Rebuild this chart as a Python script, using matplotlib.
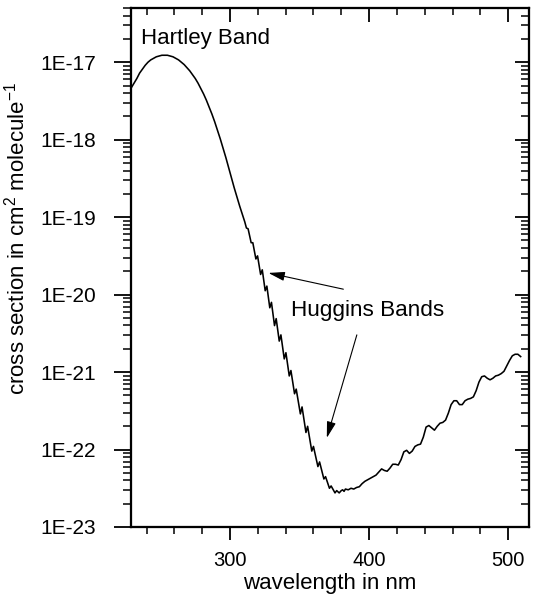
import numpy as np
import matplotlib
matplotlib.use('Agg')
import matplotlib.pyplot as plt
from matplotlib.ticker import LogLocator, MultipleLocator, FixedLocator, NullFormatter, FixedFormatter

# ---- data (wavelength in nm, log10 of cross section in cm^2 molecule^-1) ----
hartley_nm = [228, 229, 231, 233, 235, 237, 239, 241, 243, 245, 247, 249, 251, 253, 255,
              257, 259, 261, 263, 265, 267, 269, 271, 273, 275, 277, 279, 281, 283, 285,
              287, 289, 291, 293, 295, 297, 299, 301, 303, 305]
hartley_log = [-17.36, -17.33, -17.27, -17.21, -17.14, -17.09, -17.04, -17.00, -16.97, -16.95,
               -16.93, -16.92, -16.91, -16.91, -16.91, -16.92, -16.93, -16.95, -16.97, -17.00,
               -17.03, -17.07, -17.11, -17.16, -17.21, -17.27, -17.34, -17.41, -17.49, -17.58,
               -17.67, -17.77, -17.88, -17.99, -18.11, -18.23, -18.36, -18.49, -18.62, -18.74]

huggins_nm = [307, 309, 310.6, 311.8, 313.0, 315.2, 316.4, 318.6, 319.8, 322.0, 323.2,
              325.3, 326.5, 328.6, 329.8, 332.0, 333.2, 335.4, 336.6, 339.0, 340.2,
              342.6, 343.8, 346.4, 347.6, 350.6, 351.8, 354.6, 355.8, 358.8, 360.0,
              363.2, 364.4, 367.5, 368.7, 371.5, 372.7, 375.5, 376.7, 378.5, 380]
huggins_log = [-18.86, -18.97, -19.06, -19.14, -19.15, -19.33, -19.33, -19.54, -19.50, -19.74, -19.68,
               -19.95, -19.89, -20.17, -20.10, -20.40, -20.31, -20.60, -20.52, -20.83, -20.75,
               -21.05, -20.98, -21.28, -21.22, -21.54, -21.45, -21.78, -21.70, -22.02, -21.96,
               -22.22, -22.16, -22.38, -22.35, -22.50, -22.47, -22.56, -22.53, -22.56, -22.53]

visible_nm = [381, 382, 383, 385, 387, 389, 391, 393, 395, 397, 399, 401, 403, 405, 407, 409,
              411, 413, 415, 417, 419, 421, 423, 425, 427, 429, 431, 433, 435, 437, 439, 441,
              443, 445, 447, 449, 451, 453, 455, 457, 459, 461, 463, 465, 467, 469, 471, 473,
              475, 477, 479, 481, 483, 485, 487, 489, 491, 493, 495, 497, 499, 501, 503, 505,
              507, 509]
visible_log = [-22.52, -22.54, -22.51, -22.52, -22.50, -22.51, -22.49, -22.48, -22.44, -22.41,
               -22.39, -22.37, -22.35, -22.33, -22.29, -22.25, -22.27, -22.28, -22.24, -22.19,
               -22.19, -22.20, -22.13, -22.03, -22.01, -22.05, -22.02, -21.96, -21.94, -21.93,
               -21.84, -21.71, -21.69, -21.72, -21.75, -21.70, -21.66, -21.65, -21.62, -21.53,
               -21.42, -21.37, -21.37, -21.42, -21.42, -21.37, -21.35, -21.34, -21.32, -21.24,
               -21.13, -21.06, -21.05, -21.08, -21.10, -21.08, -21.05, -21.04, -21.02, -20.99,
               -20.92, -20.85, -20.79, -20.77, -20.77, -20.80]

x_major = [300, 400, 500]
x_labels = ['300', '400', '500']
y_major = [1e-23, 1e-22, 1e-21, 1e-20, 1e-19, 1e-18, 1e-17]
y_labels = ['1E-23', '1E-22', '1E-21', '1E-20', '1E-19', '1E-18', '1E-17']

plt.rcParams['font.family'] = ['Liberation Sans', 'DejaVu Sans']
plt.rcParams['mathtext.fontset'] = 'custom'
plt.rcParams['mathtext.rm'] = 'Liberation Sans'
plt.rcParams['mathtext.it'] = 'Liberation Sans:italic'

W, H = 534, 596
fig = plt.figure(figsize=(W / 100, H / 100), dpi=100)
ax = fig.add_axes([131 / W, 1 - 527 / H, 398 / W, 519 / H])

wl = np.array(hartley_nm + huggins_nm + visible_nm)
sig = 10 ** np.array(hartley_log + huggins_log + visible_log)
ax.plot(wl, sig, color='black', lw=1.15)

XLIM = (228.8, 515)
YLIM = (1e-23, 10 ** -16.3)

axr = ax.twinx()
axt = ax.twiny()

for a in (ax, axr, axt):
    a.set_yscale('log')

for a in (ax, axr, axt):
    a.set_xlim(*XLIM)
    a.set_ylim(*YLIM)
    a.xaxis.set_major_locator(FixedLocator(x_major))
    a.xaxis.set_minor_locator(MultipleLocator(20))
    a.yaxis.set_major_locator(FixedLocator(y_major))
    a.yaxis.set_minor_locator(LogLocator(base=10, subs=np.arange(2, 10), numticks=50))
    a.yaxis.set_minor_formatter(NullFormatter())
    for s in a.spines.values():
        s.set_linewidth(1.5)

axr.yaxis.set_major_formatter(NullFormatter())
axt.xaxis.set_major_formatter(NullFormatter())
ax.xaxis.set_major_formatter(FixedFormatter(x_labels))
ax.yaxis.set_major_formatter(FixedFormatter(y_labels))

ax.tick_params(axis='y', which='major', direction='out', length=12, width=1.3, pad=13, labelsize=15)
ax.tick_params(axis='y', which='minor', direction='out', length=6, width=1.1)
ax.tick_params(axis='x', which='major', direction='out', length=9, width=1.3, pad=8, labelsize=14.5)
ax.tick_params(axis='x', which='minor', direction='out', length=5, width=1.1)

axr.tick_params(axis='y', which='major', direction='in', length=10, width=1.3, labelright=False)
axr.tick_params(axis='y', which='minor', direction='in', length=6, width=1.1)
axr.tick_params(axis='x', which='both', bottom=False, top=False, labelbottom=False)

axt.tick_params(axis='x', which='major', direction='in', length=10, width=1.3, labeltop=False)
axt.tick_params(axis='x', which='minor', direction='in', length=5, width=1.1)
axt.tick_params(axis='y', which='both', left=False, right=False, labelleft=False)

ax.set_xlabel('wavelength in nm', fontsize=16)
ax.xaxis.set_label_coords(0.5, -0.088)
ax.set_ylabel(r'cross section in cm$^2$ molecule$^{-1}$', fontsize=16)
ax.yaxis.set_label_coords(-0.256, 0.555)

ax.text(0.025, 0.942, 'Hartley Band', transform=ax.transAxes, ha='left', va='center', fontsize=16)
ax.text(343.9, 10 ** -20.2, 'Huggins Bands', ha='left', va='center', fontsize=16.2)

arrow = dict(arrowstyle='-|>,head_length=0.9,head_width=0.25', color='black', lw=0.8,
             shrinkA=0, shrinkB=0, mutation_scale=11)
ax.annotate('', xy=(327.6, 10 ** -19.72), xytext=(381.5, 10 ** -19.93), arrowprops=arrow)
ax.annotate('', xy=(369.6, 10 ** -21.85), xytext=(391.2, 10 ** -20.52), arrowprops=arrow)

fig.savefig('out.png', dpi=100)
